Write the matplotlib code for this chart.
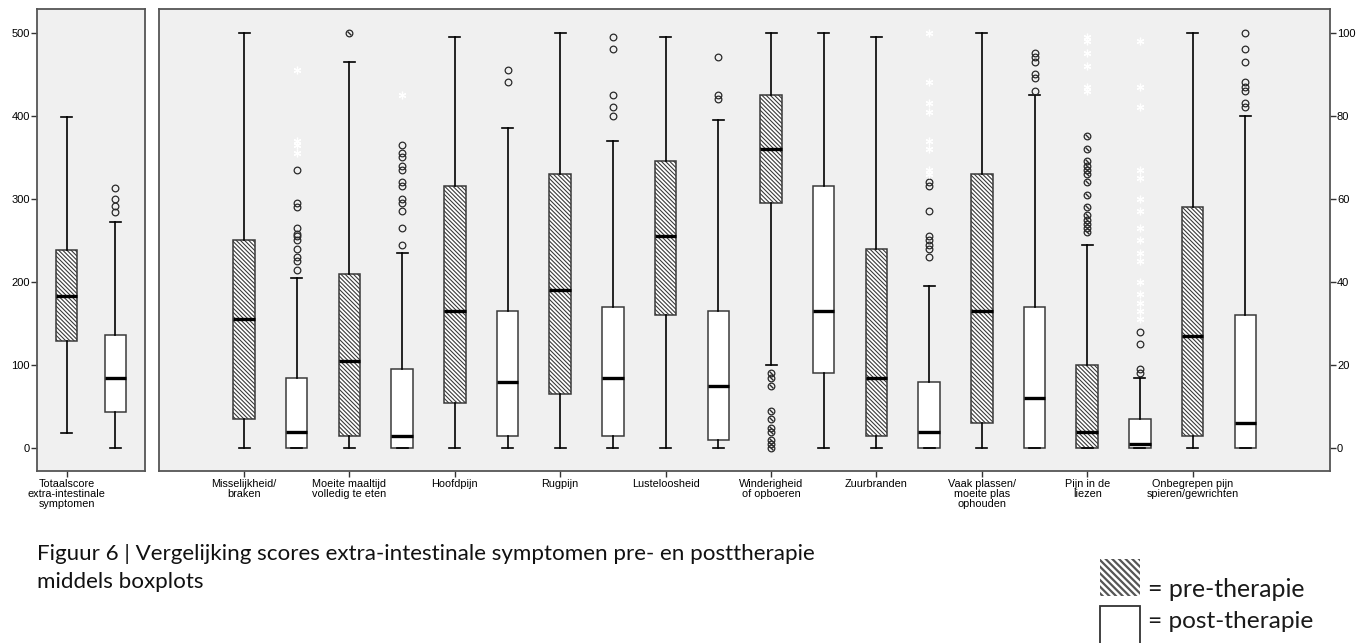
import matplotlib
matplotlib.use("Agg")
import matplotlib.pyplot as plt
from matplotlib.patches import Rectangle
import numpy as np

plt.rcParams['font.family'] = ['Liberation Sans', 'DejaVu Sans']
plt.rcParams['hatch.linewidth'] = 0.8

# ---------------- data ----------------
total_label = "Totaalscore\nextra-intestinale\nsymptomen"
# five-number summaries (whisker low, Q1, median, Q3, whisker high), scale 0-500
total_pre = [18, 129, 183, 238, 398]
total_post = [0, 44, 85, 136, 272]
total_pre_outliers = []
total_post_outliers = [284, 291, 300, 313]

categories = [
    "Misselijkheid/\nbraken",
    "Moeite maaltijd\nvolledig te eten",
    "Hoofdpijn",
    "Rugpijn",
    "Lusteloosheid",
    "Winderigheid\nof opboeren",
    "Zuurbranden",
    "Vaak plassen/\nmoeite plas\nophouden",
    "Pijn in de\nliezen",
    "Onbegrepen pijn\nspieren/gewrichten",
]

# symptom scores, scale 0-100
pre_low = [0, 0, 0, 0, 0, 20, 0, 0, 0, 0]
pre_q1 = [7, 3, 11, 13, 32, 59, 3, 6, 0, 3]
pre_med = [31, 21, 33, 38, 51, 72, 17, 33, 4, 27]
pre_q3 = [50, 42, 63, 66, 69, 85, 48, 66, 20, 58]
pre_high = [100, 93, 99, 100, 99, 100, 99, 100, 49, 100]

post_low = [0, 0, 0, 0, 0, 0, 0, 0, 0, 0]
post_q1 = [0, 0, 3, 3, 2, 18, 0, 0, 0, 0]
post_med = [4, 3, 16, 17, 15, 33, 4, 12, 1, 6]
post_q3 = [17, 19, 33, 34, 33, 63, 16, 34, 7, 32]
post_high = [41, 47, 77, 74, 79, 100, 39, 85, 17, 80]

pre_outliers = [
    [], [100], [], [], [],
    [18, 17, 15, 9, 7, 5, 4, 2, 1, 0],
    [], [],
    [75, 72, 69, 68, 67, 66, 64, 61, 58, 56, 55, 54, 53, 52],
    [],
]
pre_extremes = [[], [], [], [], [], [], [], [], [99, 98, 95, 92, 87, 86], []]

post_outliers = [
    [67, 59, 58, 53, 51.5, 51, 50, 48, 46, 45, 43],
    [73, 71, 70, 68, 67, 64, 63, 60, 59, 57, 53, 49],
    [91, 88],
    [99, 96, 85, 82, 80],
    [94, 85, 84],
    [],
    [64, 63, 57, 51, 50, 49, 48, 46],
    [95, 94, 93, 90, 89, 86],
    [28, 25, 19, 18],
    [100, 96, 93, 88, 87, 86, 83, 82],
]
post_extremes = [
    [91, 74, 73, 71],
    [85],
    [], [], [], [],
    [100, 88, 83, 81, 74, 72, 67, 66],
    [],
    [98, 87, 82, 67, 65, 60, 57, 53, 50, 47, 45, 40, 37, 35, 33, 31],
    [],
]

caption_1 = "Figuur 6 | Vergelijking scores extra-intestinale symptomen pre- en posttherapie"
caption_2 = "middels boxplots"
legend_pre = "= pre-therapie"
legend_post = "= post-therapie"

# ---------------- figure ----------------
W, H = 1368, 643
fig = plt.figure(figsize=(W / 100, H / 100), dpi=100)
fig.patch.set_facecolor('white')


def px_axes(x0, y0, x1, y1):
    return fig.add_axes([x0 / W, 1 - y1 / H, (x1 - x0) / W, (y1 - y0) / H])


ax_l = px_axes(37, 9, 145, 471)
ax_r = px_axes(159, 9, 1330, 471)

BOX_PX = 21.5
CAP_PX = 11.0
HATCH = '\\' * 8
EDGE = '#3a3a3a'


def summary(five, fl):
    lo, q1, med, q3, hi = five
    return dict(whislo=lo, q1=q1, med=med, q3=q3, whishi=hi,
                fliers=np.asarray(fl, float))


def draw_group(ax, stats, positions, px_per_unit, hatched):
    ax.bxp(stats, positions=positions,
           widths=BOX_PX / px_per_unit, capwidths=CAP_PX / px_per_unit,
           patch_artist=True, showfliers=False, manage_ticks=False,
           boxprops=dict(facecolor='white', edgecolor=EDGE, linewidth=1.1,
                         hatch=HATCH if hatched else None),
           whiskerprops=dict(color='black', linewidth=1.2),
           capprops=dict(color='black', linewidth=1.2),
           medianprops=dict(color='black', linewidth=2.4,
                            solid_capstyle='butt'),
           zorder=2)
    for x, s in zip(positions, stats):
        vals = s['fliers']
        if len(vals) == 0:
            continue
        xs = np.full(len(vals), x)
        ax.plot(xs, vals, ls='none', marker='o', ms=4.8, mfc='none',
                mec='#2a2a2a', mew=0.9, zorder=3)
        if hatched:
            ax.plot(xs, vals, ls='none', marker=(2, 2, 45), ms=3.6,
                    mec='#2a2a2a', mew=0.7, zorder=3)


def draw_extremes(ax, positions, groups):
    for x, vals in zip(positions, groups):
        if len(vals) == 0:
            continue
        ax.plot(np.full(len(vals), x), vals, ls='none', marker=(6, 2, 0),
                ms=5.5, mec='white', mew=0.9, zorder=3)


def style_axes(ax):
    ax.set_facecolor('#f0f0f0')
    for sp in ax.spines.values():
        sp.set_color('#555555')
        sp.set_linewidth(1.3)
    ax.tick_params(axis='both', colors='#333333', labelcolor='black',
                   length=4, width=1.0, labelsize=8)
    ax.tick_params(axis='x', pad=2, labelsize=7.8)
    ax.tick_params(axis='y', pad=1)


# left panel: total score
l_px_unit = 97.2
ax_l.set_xlim(-29.7 / l_px_unit, 78.3 / l_px_unit)
ax_l.set_ylim(-27.3, 528.3)
draw_group(ax_l, [summary(total_pre, total_pre_outliers)], [0.0], l_px_unit, True)
draw_group(ax_l, [summary(total_post, total_post_outliers)], [0.5], l_px_unit, False)
ax_l.set_xticks([0.0])
ax_l.set_xticklabels([total_label], linespacing=0.95)
ax_l.set_yticks(np.arange(0, 501, 100))
style_axes(ax_l)

# right panel: individual symptoms
r_px_unit = 105.4
n = len(categories)
pre_pos = np.arange(n, dtype=float)
post_pos = pre_pos + 0.5
pre_stats = [summary(v[:5], fl) for v, fl in
             zip(zip(pre_low, pre_q1, pre_med, pre_q3, pre_high), pre_outliers)]
post_stats = [summary(v[:5], fl) for v, fl in
              zip(zip(post_low, post_q1, post_med, post_q3, post_high), post_outliers)]
ax_r.set_xlim(-85 / r_px_unit, 1086 / r_px_unit)
ax_r.set_ylim(-5.46, 105.66)
draw_group(ax_r, pre_stats, pre_pos, r_px_unit, True)
draw_group(ax_r, post_stats, post_pos, r_px_unit, False)
draw_extremes(ax_r, pre_pos, pre_extremes)
draw_extremes(ax_r, post_pos, post_extremes)
ax_r.set_xticks(pre_pos)
ax_r.set_xticklabels(categories, linespacing=0.95)
ax_r.yaxis.tick_right()
ax_r.set_yticks(np.arange(0, 101, 20))
style_axes(ax_r)

# caption and hand-made legend
cap1 = fig.text(37 / W, 1 - 560 / H, caption_1, family=['Lato', 'DejaVu Sans'],
                fontsize=13, va='baseline', ha='left', color='#111111')
cap2 = fig.text(37 / W, 1 - 588 / H, caption_2, family=['Lato', 'DejaVu Sans'],
                fontsize=13, va='baseline', ha='left', color='#111111')
leg1 = fig.text(1148 / W, 1 - 597 / H, legend_pre, family=['Lato', 'DejaVu Sans'],
                fontsize=12, va='baseline', ha='left', color='#1a1a1a')
leg2 = fig.text(1148 / W, 1 - 628 / H, legend_post, family=['Lato', 'DejaVu Sans'],
                fontsize=12, va='baseline', ha='left', color='#1a1a1a')

fig.canvas.draw()
renderer = fig.canvas.get_renderer()
for t, target in [(cap1, 775), (leg1, 156), (leg2, 164)]:
    w = t.get_window_extent(renderer).width
    t.set_fontsize(t.get_fontsize() * target / w)
cap2.set_fontsize(cap1.get_fontsize())

pre_patch = Rectangle((1100 / W, 1 - 596 / H), 40 / W, 37 / H,
                      transform=fig.transFigure, facecolor='white',
                      edgecolor='#555555', linewidth=0, hatch='\\' * 5)
if hasattr(pre_patch, 'set_hatch_linewidth'):
    pre_patch.set_hatch_linewidth(1.6)
fig.add_artist(pre_patch)
post_patch = Rectangle((1100 / W, 1 - 655 / H), 40 / W, 49 / H,
                       transform=fig.transFigure, facecolor='white',
                       edgecolor='#333333', linewidth=1.3)
fig.add_artist(post_patch)

fig.savefig("out.png", dpi=100)
